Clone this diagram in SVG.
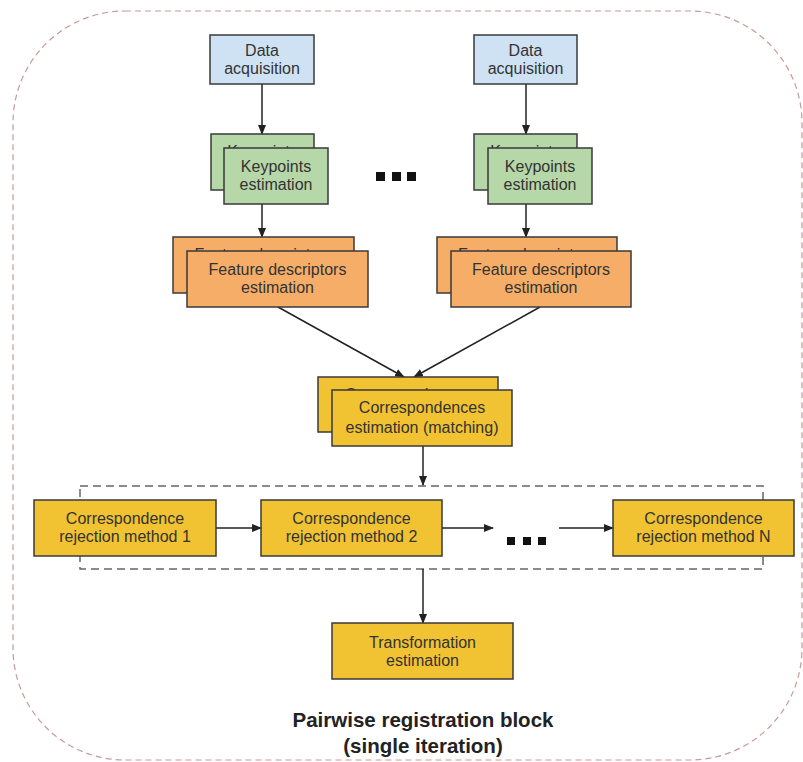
<svg xmlns="http://www.w3.org/2000/svg" width="803" height="762" viewBox="0 0 803 762">
<defs>
<style>
.box{stroke:#3a3a3a;stroke-width:1.5}
.blue{fill:#cfe2f3}
.green{fill:#b6d7a8}
.orange{fill:#f6ad68}
.gold{fill:#f1c232}
.t{font-family:"Liberation Sans",Arial,sans-serif;font-size:16px;fill:#333;text-anchor:middle}
.title{font-family:"Liberation Sans",Arial,sans-serif;font-size:20.5px;font-weight:bold;fill:#222;text-anchor:middle}
.edge{stroke:#222;stroke-width:1.5;fill:none;marker-end:url(#ah)}
.dot{fill:#111}
</style>
<marker id="ah" markerWidth="10" markerHeight="8" refX="9" refY="4" orient="auto" markerUnits="userSpaceOnUse">
<path d="M0,0 L10,4 L0,8 z" fill="#222"/>
</marker>
<clipPath id="ck1"><rect x="211" y="134" width="103" height="14"/></clipPath>
<clipPath id="ck2"><rect x="474" y="134" width="103" height="14"/></clipPath>
<clipPath id="cf1"><rect x="173" y="237" width="181" height="14"/></clipPath>
<clipPath id="cf2"><rect x="437" y="237" width="180" height="14"/></clipPath>
<clipPath id="cc"><rect x="318" y="377" width="180" height="13"/></clipPath>
</defs>
<rect width="803" height="762" fill="#fff"/>
<rect id="outer" x="13" y="11" width="789" height="749" rx="112" ry="112" fill="none" stroke="#c79a9a" stroke-width="1.2" stroke-dasharray="6,4"/>
<rect id="rejection-group" x="80" y="486" width="683" height="83" fill="none" stroke="#666" stroke-width="1.5" stroke-dasharray="8,5"/>

<g id="connectors">
<line class="edge" x1="262" y1="84" x2="262" y2="134"/>
<line class="edge" x1="526" y1="84" x2="526" y2="134"/>
<line class="edge" x1="262" y1="204" x2="262" y2="237"/>
<line class="edge" x1="526" y1="204" x2="526" y2="237"/>
<line class="edge" x1="278" y1="307" x2="404" y2="377"/>
<line class="edge" x1="540" y1="307" x2="414" y2="377"/>
<line class="edge" x1="423" y1="446" x2="423" y2="485"/>
<line class="edge" x1="216" y1="528" x2="261" y2="528"/>
<line class="edge" x1="442" y1="528" x2="493" y2="528"/>
<line class="edge" x1="559" y1="528" x2="613" y2="528"/>
<line class="edge" x1="423" y1="569" x2="423" y2="623"/>
</g>

<g id="data-acq-1">
<rect class="box blue" x="210" y="35" width="104" height="49"/>
<text class="t" x="262" y="56">Data</text>
<text class="t" x="262" y="74">acquisition</text>
</g>
<g id="data-acq-2">
<rect class="box blue" x="474" y="35" width="103" height="49"/>
<text class="t" x="525.5" y="56">Data</text>
<text class="t" x="525.5" y="74">acquisition</text>
</g>

<g id="keypoints-1">
<rect class="box green" x="211" y="134" width="103" height="56"/>
<text class="t" x="262.5" y="157" clip-path="url(#ck1)">Keypoints</text>
<rect class="box green" x="224" y="148" width="104" height="56"/>
<text class="t" x="276" y="172">Keypoints</text>
<text class="t" x="276" y="190">estimation</text>
</g>
<g id="keypoints-2">
<rect class="box green" x="474" y="134" width="103" height="56"/>
<text class="t" x="525.5" y="157" clip-path="url(#ck2)">Keypoints</text>
<rect class="box green" x="488" y="148" width="104" height="56"/>
<text class="t" x="540" y="172">Keypoints</text>
<text class="t" x="540" y="190">estimation</text>
</g>

<g id="dots-top">
<rect class="dot" x="376" y="172" width="9" height="9"/>
<rect class="dot" x="392" y="172" width="9" height="9"/>
<rect class="dot" x="407" y="172" width="9" height="9"/>
</g>

<g id="features-1">
<rect class="box orange" x="173" y="237" width="181" height="56"/>
<text class="t" x="263.5" y="260" clip-path="url(#cf1)">Feature descriptors</text>
<rect class="box orange" x="187" y="251" width="181" height="56"/>
<text class="t" x="277.5" y="275">Feature descriptors</text>
<text class="t" x="277.5" y="293">estimation</text>
</g>
<g id="features-2">
<rect class="box orange" x="437" y="237" width="180" height="56"/>
<text class="t" x="527" y="260" clip-path="url(#cf2)">Feature descriptors</text>
<rect class="box orange" x="451" y="251" width="180" height="56"/>
<text class="t" x="541" y="275">Feature descriptors</text>
<text class="t" x="541" y="293">estimation</text>
</g>

<g id="correspondences">
<rect class="box gold" x="318" y="377" width="180" height="55"/>
<text class="t" x="408" y="400" clip-path="url(#cc)">Correspondences</text>
<rect class="box gold" x="332" y="390" width="180" height="56"/>
<text class="t" x="422" y="413">Correspondences</text>
<text class="t" x="422" y="433">estimation (matching)</text>
</g>

<g id="rejection-1">
<rect class="box gold" x="34" y="500" width="182" height="56"/>
<text class="t" x="125" y="524">Correspondence</text>
<text class="t" x="125" y="542">rejection method 1</text>
</g>
<g id="rejection-2">
<rect class="box gold" x="261" y="500" width="181" height="56"/>
<text class="t" x="351.5" y="524">Correspondence</text>
<text class="t" x="351.5" y="542">rejection method 2</text>
</g>
<g id="dots-bottom">
<rect class="dot" x="507" y="537" width="8" height="8"/>
<rect class="dot" x="523" y="537" width="8" height="8"/>
<rect class="dot" x="538" y="537" width="8" height="8"/>
</g>
<g id="rejection-n">
<rect class="box gold" x="613" y="500" width="181" height="56"/>
<text class="t" x="703.5" y="524">Correspondence</text>
<text class="t" x="703.5" y="542">rejection method N</text>
</g>

<g id="transformation">
<rect class="box gold" x="332" y="623" width="181" height="56"/>
<text class="t" x="422.5" y="648">Transformation</text>
<text class="t" x="422.5" y="666">estimation</text>
</g>

<g id="caption">
<text class="title" x="423" y="727">Pairwise registration block</text>
<text class="title" x="423" y="753">(single iteration)</text>
</g>
</svg>
